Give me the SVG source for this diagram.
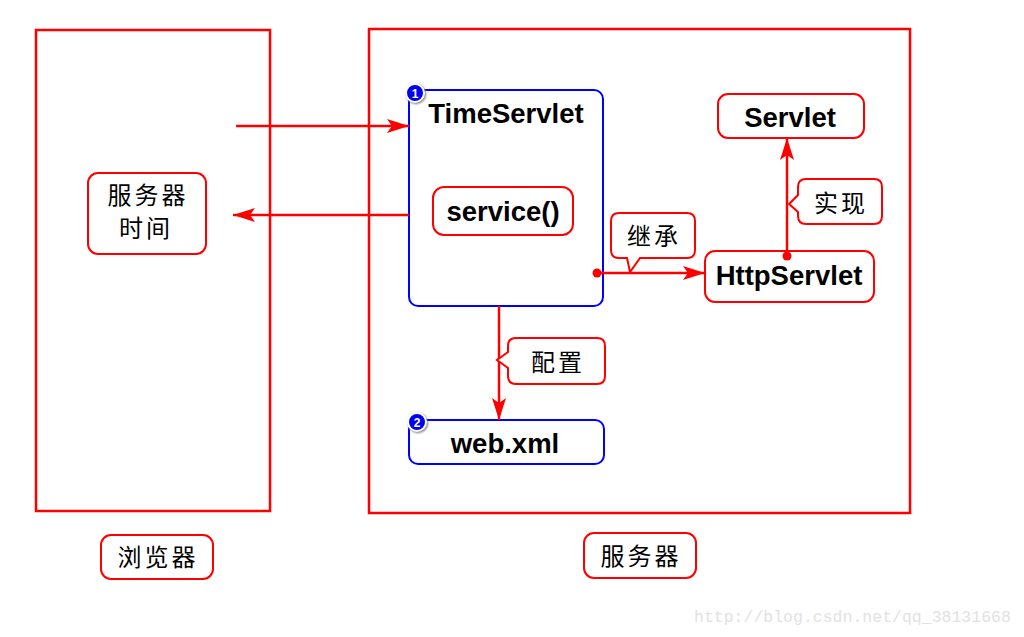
<svg xmlns="http://www.w3.org/2000/svg" width="1024" height="637" viewBox="0 0 1024 637">
<style>
.frame{fill:none;stroke:#ff0000;stroke-width:2.5}
.rbox{fill:#fff;stroke:#ff0000;stroke-width:2}
.bbox{fill:#fff;stroke:#0000ff;stroke-width:2}
.line{fill:none;stroke:#ff0000;stroke-width:2.5}
.en{font-family:"Liberation Sans",Arial,sans-serif;font-weight:bold;font-size:27.5px;fill:#000;text-anchor:middle}
.cn{font-family:"Noto Sans CJK SC","Liberation Serif",serif;font-size:24px;font-weight:normal;fill:#000;text-anchor:middle;letter-spacing:3px}
.badge{fill:#0000ee;stroke:#fff;stroke-width:2}
.bn{font-family:"Liberation Sans",Arial,sans-serif;font-weight:bold;font-size:12px;fill:#fff;text-anchor:middle}
</style>
<defs>
<marker id="ah" markerUnits="userSpaceOnUse" markerWidth="24" markerHeight="14" refX="22" refY="7" orient="auto">
<path d="M0,0 L22,7 L0,14 L5,7 Z" fill="#ff0000"/>
</marker>
<marker id="dot" markerUnits="userSpaceOnUse" markerWidth="10" markerHeight="10" refX="5" refY="5">
<circle cx="5" cy="5" r="4.5" fill="#ff0000"/>
</marker>
</defs>
<rect width="1024" height="637" fill="#fff"/>
<g id="browser-frame"><rect class="frame" x="36" y="30" width="234" height="481"/></g>
<g id="server-frame"><rect class="frame" x="369" y="29" width="541" height="484"/></g>

<g id="timeservlet">
<rect class="bbox" x="409" y="90" width="194" height="216" rx="9"/>
<text class="en" x="506" y="123">TimeServlet</text>
<circle class="badge" cx="415" cy="93" r="9" style="filter:drop-shadow(1px 1px 1px #777)"/>
<text class="bn" x="415" y="97.5">1</text>
</g>
<g id="service">
<rect class="rbox" x="433" y="187" width="140" height="48" rx="11"/>
<text class="en" x="503" y="221">service()</text>
</g>
<g id="server-time">
<rect class="rbox" x="88" y="173" width="118" height="81" rx="10"/>
<text class="cn" x="148" y="204">服务器</text>
<text class="cn" x="146" y="237">时间</text>
</g>
<g id="httpservlet">
<rect class="rbox" x="705" y="251" width="169" height="51" rx="10"/>
<text class="en" x="789" y="285">HttpServlet</text>
</g>
<g id="servlet">
<rect class="rbox" x="718" y="94" width="146" height="44" rx="10"/>
<text class="en" x="790" y="127">Servlet</text>
</g>
<g id="webxml">
<rect class="bbox" x="409" y="420" width="195" height="44" rx="9"/>
<text class="en" x="505" y="453">web.xml</text>
<circle class="badge" cx="417" cy="422" r="9" style="filter:drop-shadow(1px 1px 1px #777)"/>
<text class="bn" x="417" y="426.5">2</text>
</g>

<g id="connectors">
<line class="line" x1="236" y1="126" x2="409" y2="126" marker-end="url(#ah)"/>
<line class="line" x1="409" y1="215" x2="233" y2="215" marker-end="url(#ah)"/>
<line class="line" x1="597" y1="273" x2="705" y2="273" marker-start="url(#dot)" marker-end="url(#ah)"/>
<line class="line" x1="787" y1="256" x2="787" y2="138" marker-start="url(#dot)" marker-end="url(#ah)"/>
<line class="line" x1="499" y1="306" x2="499" y2="420" marker-end="url(#ah)"/>
</g>

<g id="inherit-label">
<path class="rbox" d="M619,213 H687 Q695,213 695,221 V250 Q695,258 687,258 H640 L630,272 L627,258 H619 Q611,258 611,250 V221 Q611,213 619,213 Z"/>
<text class="cn" x="654" y="245">继承</text>
</g>
<g id="implement-label">
<path class="rbox" d="M806,179 H874 Q882,179 882,187 V216 Q882,224 874,224 H806 Q798,224 798,216 V212 L789,204 L798,195 V187 Q798,179 806,179 Z"/>
<text class="cn" x="841" y="212">实现</text>
</g>
<g id="config-label">
<path class="rbox" d="M516,338 H597 Q605,338 605,346 V376 Q605,384 597,384 H516 Q508,384 508,376 V368 L497,360 L508,352 V346 Q508,338 516,338 Z"/>
<text class="cn" x="558" y="371">配置</text>
</g>
<g id="browser-label">
<rect class="rbox" x="101" y="535" width="112" height="44" rx="10"/>
<text class="cn" x="158" y="566">浏览器</text>
</g>
<g id="server-label">
<rect class="rbox" x="584" y="533" width="112" height="45" rx="10"/>
<text class="cn" x="641" y="565">服务器</text>
</g>
<text x="694" y="622" style="font-family:'Liberation Mono',monospace;font-size:16.5px;fill:#e2e2e2">http://blog.csdn.net/qq_38131668</text>
</svg>
